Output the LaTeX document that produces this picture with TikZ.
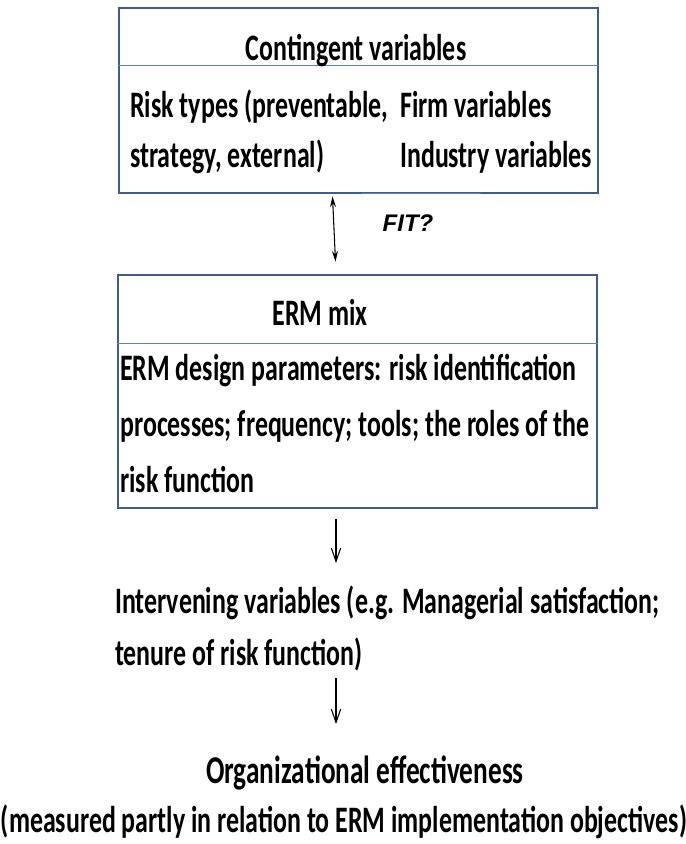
\documentclass[tikz,border=0pt]{standalone}
\usepackage{fontspec}
\setmainfont[FakeStretch=0.694]{Carlito}
\newfontfamily\fitFont{Liberation Sans}
\usepackage{xcolor}
\definecolor{frameBlue}{HTML}{3E5C8C}
\definecolor{ruleBlue}{HTML}{5A84BC}
\usetikzlibrary{positioning,calc,arrows.meta}
\newcommand{\diagFont}{\fontsize{28}{39}\selectfont\bfseries}
\tikzset{%
  frameBox/.style={%
    rectangle,
    draw=frameBlue,
    line width=2.2pt,
    minimum width=359.25pt,
    inner sep=0pt
  },
  dividerLine/.style={%
    draw=ruleBlue,
    line width=1.4pt
  },
  titleText/.style={%
    font=\diagFont,
    inner sep=0pt,
    anchor=base
  },
  bodyText/.style={%
    font=\diagFont,
    inner sep=0pt,
    align=left,
    anchor=base west
  },
  fitArrow/.style={%
    {Stealth[length=8pt,width=4.5pt]}-{Stealth[length=8pt,width=4.5pt]},
    line width=0.8pt
  },
  flowArrow/.style={%
    -{Straight Barb[length=10pt,width=7pt]},
    line width=0.8pt
  }
}
\begin{document}
\begin{tikzpicture}[x=0.75pt,y=-0.75pt]
  \useasboundingbox (0,0) rectangle (686,844);

  % contingent variables box
  \node[frameBox, minimum height=138.75pt] (ctgBox) at (358.5,100.5) {};
  \draw[dividerLine] ($(ctgBox.north west)+(0,59)$) -- ($(ctgBox.north east)+(0,59)$);
  \draw[white, line width=2.4pt] ($(ctgBox.south west)+(244,0)$) -- ($(ctgBox.south west)+(363,0)$);
  \draw[ruleBlue, line width=0.7pt] ($(ctgBox.south west)+(244,-1)$) -- ($(ctgBox.south west)+(363,-1)$);
  \node[titleText] (ctgTitle) at (356,60) {Contingent variables};
  \node[bodyText, font=\fontsize{28}{37.5}\selectfont\bfseries] (riskTypes) at (130,167) {Risk types (preventable,\\strategy, external)};
  \node[bodyText, font=\fontsize{28}{37.5}\selectfont\bfseries] (firmVars) at (400,167) {Firm variables\\Industry variables};

  % ERM mix box
  \node[frameBox, minimum height=174.75pt] (ermBox) at (357.5,391.5) {};
  \draw[dividerLine] ($(ermBox.north west)+(0,70)$) -- ($(ermBox.north east)+(0,70)$);
  \node[titleText] (ermTitle) at (320,325) {ERM mix};
  \node[bodyText, font=\fontsize{28}{42}\selectfont\bfseries] (ermParams) at (120,492)
    {ERM design parameters: risk identification\\processes; frequency; tools; the roles of the\\risk function};

  \node[font=\fitFont\bfseries\itshape\fontsize{18}{20}\selectfont, inner sep=0pt] (fitLabel) at (408,223) {FIT?};

  % outcomes
  \node[bodyText] (interVars) at (115,665)
    {Intervening variables (e.g. Managerial satisfaction;\\tenure of risk function)};
  \node[titleText, font=\fontsize{29.5}{39}\selectfont\bfseries] (orgEffect) at (365,783) {Organizational effectiveness};
  \node[titleText] (orgNote) at (344,832) {(measured partly in relation to ERM implementation objectives)};

  \coordinate (flowX) at (336,0);
  \draw[fitArrow] ($(ctgBox.south)+(-26,2)$) -- ($(ermBox.north)+(-22,-12)$);
  \draw[flowArrow] ($(ermBox.south -| flowX)+(0,10)$) -- ($(interVars.north -| flowX)+(0,-22)$);
  \draw[flowArrow] ($(interVars.south -| flowX)+(0,7)$) -- ($(orgEffect.north -| flowX)+(0,-31)$);
\end{tikzpicture}
\end{document}
